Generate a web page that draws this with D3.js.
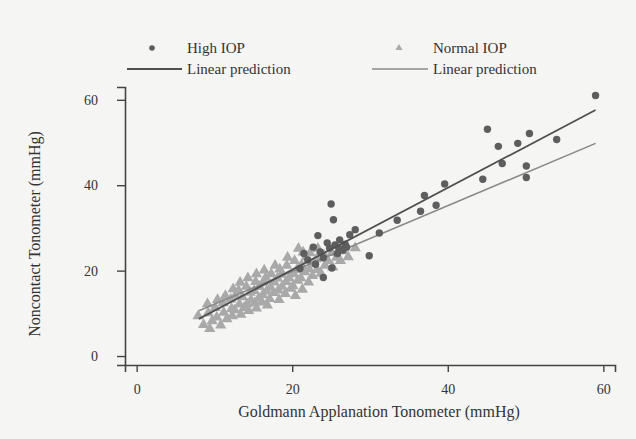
<!DOCTYPE html>
<html>
<head>
<meta charset="utf-8">
<script src="https://cdn.jsdelivr.net/npm/d3@7"></script>
<style>
  body { margin: 0; background: #f5f5f3; }
  svg { display: block; }
  text { font-family: "Liberation Serif", "DejaVu Serif", serif; fill: #333; }
</style>
</head>
<body>
<script>
const w = 636,
      h = 439;

// data: [Goldmann, Noncontact]
const highIOP = [
  [59, 61], [45.1, 53.1], [50.5, 52.1], [54, 50.7], [46.5, 49.1], [49, 49.8],
  [47, 45.1], [50.1, 44.5], [44.5, 41.4], [50.1, 41.8], [39.6, 40.3], [37, 37.6],
  [38.5, 35.3], [36.5, 33.9], [33.5, 31.8], [31.2, 28.8], [29.9, 23.5], [28.1, 29.6],
  [25, 35.6], [25.3, 31.9], [23.3, 28.2], [25.1, 20.6], [24, 18.4], [24.5, 26.5],
  [25.5, 26], [26.5, 24.8], [22.7, 25.5], [26.1, 27.2], [24.8, 25.3], [26.8, 26.2],
  [23.6, 24.4], [27.4, 28.4], [22, 22.5], [21.5, 24], [25.8, 24], [24, 23],
  [27, 25.5], [21, 20.5], [23, 21.5], [26, 25.2]
];

const normalIOP = [
  [7.9, 9.4], [8.6, 7.3], [9.2, 10.1], [9.7, 8.2], [9.4, 6.4], [10.3, 9.1], [10.1, 11.3], [10.8, 7.2],
  [11.2, 10.2], [11.1, 12.4], [11.6, 8.7], [12.2, 11.1], [12.1, 13.3], [12.3, 9.4], [12.7, 14.2], [12.6, 10.8],
  [13.2, 12.1], [13.1, 15.4], [13.4, 9.7], [13.8, 11.3], [13.6, 13.8], [14.2, 12.2], [14.1, 16.3], [14.4, 10.6],
  [14.7, 13.1], [14.6, 14.9], [15.2, 12.4], [15.1, 15.3], [15.3, 17.4], [15.4, 11.2], [15.7, 13.6], [15.8, 16.2],
  [16.2, 14.3], [16.1, 12.6], [16.3, 17.3], [16.7, 15.2], [16.6, 18.4], [16.8, 11.9], [17.1, 13.4], [17.2, 16.1],
  [17.3, 19.2], [17.6, 14.8], [17.7, 17.3], [18.2, 15.4], [18.1, 18.2], [18.3, 13.2], [18.4, 20.3], [18.7, 16.3],
  [18.6, 19.1], [19.1, 14.6], [19.2, 17.4], [19.3, 21.2], [19.6, 18.3], [19.8, 15.8], [20.1, 16.4], [20.2, 19.2],
  [20.3, 22.3], [20.4, 14.1], [20.7, 17.7], [20.6, 20.2], [21.1, 18.3], [21.2, 21.3], [21.3, 15.6], [21.6, 19.7],
  [21.8, 23.2], [22.1, 17.3], [22.2, 20.4], [22.3, 24.1], [22.7, 21.6], [22.6, 18.8], [23.2, 20.2], [23.1, 22.7],
  [23.3, 25.2], [23.7, 19.3], [24.2, 21.2], [24.1, 23.6], [24.6, 22.3], [25.2, 20.8], [25.1, 24.2], [25.7, 23.1],
  [26.2, 22.3], [26.6, 24.6], [27.2, 23.2], [28.1, 25.3], [13.3, 17.2], [11.4, 14.1], [16.4, 20.1], [10.4, 13.2],
  [14.3, 18.3], [19.4, 23.1], [12.4, 15.7], [17.8, 21.2], [21.4, 24.3], [20.8, 25.2], [9.1, 12.2], [15.4, 19.2]
];

// linear predictions: [x, y] at both ends
const highFit = [[8, 8.7], [59, 57.6]];
const normalFit = [[8, 10.6], [59, 49.8]];

const xTicks = [0, 20, 40, 60];
const yTicks = [0, 20, 40, 60];

const svg = d3.select("body")
              .append("svg")
              .attr("width", w)
              .attr("height", h);

const xScale = d3.scaleLinear()
                 .domain([-1.5, 61.5])
                 .range([125, 615]);

const yScale = d3.scaleLinear()
                 .domain([-2.1, 63])
                 .range([365, 87]);

// axes
const xAxis = d3.axisBottom(xScale)
                .tickValues(xTicks)
                .tickSizeOuter(0)
                .tickSize(7)
                .tickPadding(12);

const yAxis = d3.axisLeft(yScale)
                .tickValues(yTicks)
                .tickSizeOuter(0)
                .tickSize(8)
                .tickPadding(19);

const gx = svg.append("g")
   .attr("transform", "translate(0,365)")
   .call(xAxis);

const gy = svg.append("g")
   .attr("transform", "translate(125,0)")
   .call(yAxis);

[gx, gy].forEach(g => {
  g.select(".domain").attr("stroke", "#444").attr("stroke-width", 1.6);
  g.selectAll(".tick line").attr("stroke", "#444").attr("stroke-width", 1.4);
  g.selectAll(".tick text")
   .style("font-family", "Liberation Serif")
   .style("font-size", "14px")
   .attr("fill", "#333");
});

// axis titles
svg.append("text")
   .attr("x", 379)
   .attr("y", 417)
   .attr("text-anchor", "middle")
   .style("font-size", "16px")
   .text("Goldmann Applanation Tonometer (mmHg)");

svg.append("text")
   .attr("transform", "translate(40,234) rotate(-90)")
   .attr("text-anchor", "middle")
   .style("font-size", "16px")
   .text("Noncontact Tonometer (mmHg)");

// points
const tri = d3.symbol().type(d3.symbolTriangle).size(55);

svg.append("g")
   .selectAll("path")
   .data(normalIOP)
   .enter()
   .append("path")
   .attr("d", tri)
   .attr("transform", d => "translate(" + xScale(d[0]) + "," + yScale(d[1]) + ")")
   .attr("fill", "#a9a9a9");

const line = d3.line()
               .x(d => xScale(d[0]))
               .y(d => yScale(d[1]));

svg.append("path")
   .datum(normalFit)
   .attr("d", line)
   .attr("fill", "none")
   .attr("stroke", "#8a8a8a")
   .attr("stroke-width", 1.6);

svg.append("g")
   .selectAll("circle")
   .data(highIOP)
   .enter()
   .append("circle")
   .attr("cx", d => xScale(d[0]))
   .attr("cy", d => yScale(d[1]))
   .attr("r", 3.7)
   .attr("fill", "#5e5e5e");

svg.append("path")
   .datum(highFit)
   .attr("d", line)
   .attr("fill", "none")
   .attr("stroke", "#505050")
   .attr("stroke-width", 1.8);

// legend
const legend = svg.append("g").style("font-size", "15px");

legend.append("circle")
   .attr("cx", 152).attr("cy", 48).attr("r", 2.8)
   .attr("fill", "#5e5e5e");
legend.append("text").attr("x", 187).attr("y", 53).text("High IOP");
legend.append("line")
   .attr("x1", 127).attr("x2", 182).attr("y1", 69).attr("y2", 69)
   .attr("stroke", "#505050").attr("stroke-width", 1.8);
legend.append("text").attr("x", 187).attr("y", 74).text("Linear prediction");

legend.append("path")
   .attr("d", d3.symbol().type(d3.symbolTriangle).size(22))
   .attr("transform", "translate(399,48)")
   .attr("fill", "#a9a9a9");
legend.append("text").attr("x", 433).attr("y", 53).text("Normal IOP");
legend.append("line")
   .attr("x1", 372).attr("x2", 428).attr("y1", 69).attr("y2", 69)
   .attr("stroke", "#8a8a8a").attr("stroke-width", 1.6);
legend.append("text").attr("x", 433).attr("y", 74).text("Linear prediction");
</script>
</body>
</html>
